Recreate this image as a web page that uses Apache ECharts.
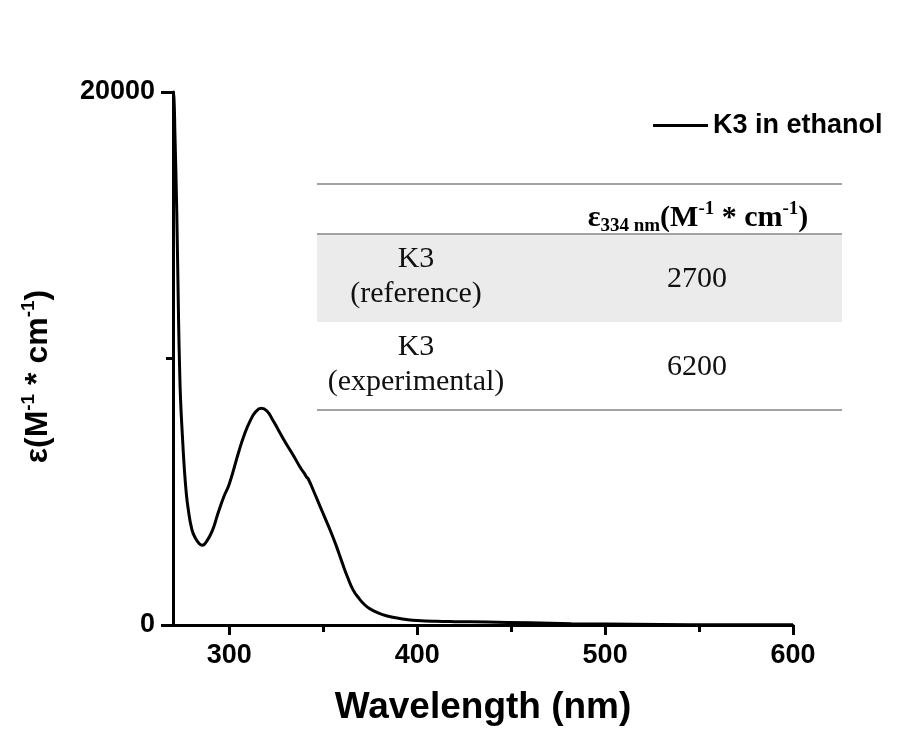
<!DOCTYPE html>
<html>
<head>
<meta charset="utf-8">
<script src="https://cdn.jsdelivr.net/npm/echarts@6/dist/echarts.min.js"></script>
<style>
html, body { margin: 0; padding: 0; background: #fff; }
#chart { width: 902px; height: 742px; }
</style>
</head>
<body>
<div id="chart"></div>
<script>
// absorption spectrum
var wavelength = [270, 270.5, 271, 272, 273, 273.5, 274, 275, 276, 277, 278, 280, 282, 284, 285.5, 288, 291, 294, 297, 300,
  305, 308, 311, 314, 317, 320, 323, 326, 330, 334, 338, 340, 341, 342, 345, 348, 351, 354, 357, 360,
  363, 366, 369, 372, 375, 379, 384, 390, 395, 400, 410, 420, 437, 460, 482, 500, 530, 560, 600];
var epsilon = [20000, 19800, 18500, 15500, 11300, 9700, 8500, 7100, 5900, 5000, 4400, 3600, 3250, 3050, 2990, 3150, 3550, 4200, 4800, 5300,
  6500, 7150, 7650, 8000, 8130, 8030, 7700, 7330, 6830, 6370, 5880, 5680, 5560, 5480, 5000, 4500, 4000, 3500, 2950, 2350,
  1780, 1300, 1000, 760, 600, 460, 340, 250, 200, 170, 140, 125, 110, 80, 47, 35, 20, 10, 5];

var xLabelTicks = [300, 400, 500, 600];
var xMinorTicks = [350, 450, 550];
var yLabelTicks = [0, 20000];
var yMinorTicks = [10000];
var seriesName = 'K3 in ethanol';

var tableRowLabels = ['K3\n(reference)', 'K3\n(experimental)'];
var tableRowValues = ['2700', '6200'];

var SANS = '"Liberation Sans", Arial, sans-serif';
var SERIF = '"Liberation Serif", "Times New Roman", serif';

var myChart = echarts.init(document.getElementById('chart'));

var points = wavelength.map(function (w, i) { return [w, epsilon[i]]; });

var rowTop = [234, 322];
var rowH = 88;

var graphics = [
  { type: 'rect', shape: { x: 317, y: rowTop[0], width: 525, height: rowH }, style: { fill: '#ebebeb' }, z: 1 },
  { type: 'line', shape: { x1: 317, y1: 184, x2: 842, y2: 184 }, style: { stroke: '#a3a3a3', lineWidth: 2 }, z: 2 },
  { type: 'line', shape: { x1: 317, y1: 234, x2: 842, y2: 234 }, style: { stroke: '#a3a3a3', lineWidth: 2 }, z: 2 },
  { type: 'line', shape: { x1: 317, y1: 410, x2: 842, y2: 410 }, style: { stroke: '#a3a3a3', lineWidth: 2 }, z: 2 },
  {
    type: 'text', x: 698, y: 218, z: 3,
    style: {
      text: '{b|ε}{sub|334 nm}{b|(M}{sup|-1}{b| * cm}{sup|-1}{b|)}',
      align: 'center', verticalAlign: 'middle',
      rich: {
        b: { fontFamily: SERIF, fontWeight: 'bold', fontSize: 30, lineHeight: 36, fill: '#000' },
        sub: { fontFamily: SERIF, fontWeight: 'bold', fontSize: 19, lineHeight: 22, verticalAlign: 'bottom', fill: '#000' },
        sup: { fontFamily: SERIF, fontWeight: 'bold', fontSize: 19, lineHeight: 22, verticalAlign: 'top', fill: '#000' }
      }
    }
  }
];

tableRowLabels.forEach(function (lab, i) {
  graphics.push({
    type: 'text', x: 416, y: rowTop[i] + rowH / 2 - 1, z: 3,
    style: { text: lab, align: 'center', verticalAlign: 'middle', font: '30px ' + SERIF, lineHeight: 35, fill: '#111' }
  });
  graphics.push({
    type: 'text', x: 697, y: rowTop[i] + rowH / 2 + 1, z: 3,
    style: { text: tableRowValues[i], align: 'center', verticalAlign: 'middle', font: '30px ' + SERIF, fill: '#111' }
  });
});

var option = {
  backgroundColor: '#fff',
  animation: false,
  grid: { left: 173, right: 109, top: 92, bottom: 117, containLabel: false, outerBoundsMode: 'none' },
  legend: {
    data: [{ name: seriesName, icon: 'rect' }],
    left: 653, top: 112,
    itemWidth: 55, itemHeight: 3, itemGap: 10, padding: 0,
    itemStyle: { color: '#000' },
    textStyle: { fontFamily: SANS, fontWeight: 'bold', fontSize: 27, color: '#000' }
  },
  xAxis: [{
    type: 'value', min: 270, max: 600,
    name: 'Wavelength (nm)', nameLocation: 'middle', nameGap: 64,
    nameTextStyle: { fontFamily: SANS, fontWeight: 'bold', fontSize: 37, color: '#000' },
    axisLine: { show: true, onZero: false, lineStyle: { color: '#000', width: 3 } },
    axisTick: { show: true, customValues: xLabelTicks, length: 10, lineStyle: { color: '#000', width: 3 } },
    axisLabel: { customValues: xLabelTicks, margin: 17, fontFamily: SANS, fontWeight: 'bold', fontSize: 27, color: '#000' },
    splitLine: { show: false }
  }, {
    type: 'value', min: 270, max: 600, position: 'bottom',
    axisLine: { show: false },
    axisTick: { show: true, customValues: xMinorTicks, length: 7, lineStyle: { color: '#000', width: 3 } },
    axisLabel: { show: false },
    splitLine: { show: false }
  }],
  yAxis: [{
    type: 'value', min: 0, max: 20000,
    name: '{a|ε(M}{s|-1}{a| * cm}{s|-1}{a|)}', nameLocation: 'middle', nameGap: 116,
    nameTextStyle: {
      padding: [0, 36, 0, 0],
      rich: {
        a: { fontFamily: SANS, fontWeight: 'bold', fontSize: 32, lineHeight: 38, color: '#000' },
        s: { fontFamily: SANS, fontWeight: 'bold', fontSize: 19, lineHeight: 20, verticalAlign: 'top', color: '#000' }
      }
    },
    axisLine: { show: true, onZero: false, lineStyle: { color: '#000', width: 3 } },
    axisTick: { show: true, customValues: yLabelTicks, length: 12, lineStyle: { color: '#000', width: 3 } },
    axisLabel: {
      customValues: yLabelTicks, margin: 18, fontFamily: SANS, fontWeight: 'bold', fontSize: 27, color: '#000',
      formatter: function (v) { return String(v); }
    },
    splitLine: { show: false }
  }, {
    type: 'value', min: 0, max: 20000, position: 'left',
    axisLine: { show: false },
    axisTick: { show: true, customValues: yMinorTicks, length: 7, lineStyle: { color: '#000', width: 3 } },
    axisLabel: { show: false },
    splitLine: { show: false }
  }],
  series: [{
    name: seriesName,
    type: 'line',
    data: points,
    symbol: 'none',
    smooth: 0.5,
    lineStyle: { color: '#000', width: 3 },
    itemStyle: { color: '#000' },
    z: 5
  }],
  graphic: graphics
};

myChart.setOption(option);
</script>
</body>
</html>
